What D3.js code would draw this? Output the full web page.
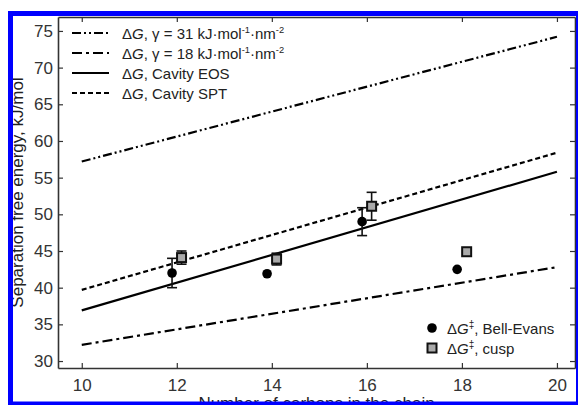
<!DOCTYPE html>
<html><head><meta charset="utf-8">
<script src="https://cdn.jsdelivr.net/npm/d3@7"></script>
<style>
html,body{margin:0;padding:0;background:#fff;}
svg{display:block;font-family:"Liberation Sans",Arial,Helvetica,sans-serif;}
</style></head>
<body>
<svg id="chart" width="578" height="405"></svg>
<script>
// ---- data ----
const lineX = [10, 20];
const gamma31 = [57.2, 74.2];
const gamma18 = [32.2, 42.8];
const cavityEOS = [36.9, 55.8];
const cavitySPT = [39.7, 58.4];

const bellX = [11.9, 13.9, 15.9, 17.9];
const bellY = [42.0, 41.9, 49.0, 42.5];
const bellErr = [2.0, 0, 1.9, 0];

const cuspX = [12.1, 14.1, 16.1, 18.1];
const cuspY = [44.1, 43.9, 51.1, 44.9];
const cuspErr = [0.9, 0.8, 1.9, 0];

const xTicks = [10, 12, 14, 16, 18, 20];
const yTicks = [30, 35, 40, 45, 50, 55, 60, 65, 70, 75];

const xTitle = "Number of carbons in the chain";
const yTitle = "Separation free energy, kJ/mol";

// ---- layout ----
const svg = d3.select("#chart");
const L = 58, R = 575, T = 17, B = 368;
const x = d3.scaleLinear().domain([9.5, 20.38]).range([L, R]);
const y = d3.scaleLinear().domain([29.05, 76.9]).range([B, T]);
const axisColor = "#333";

// axes
const gx = svg.append("g").attr("transform", `translate(0,${B})`)
  .call(d3.axisBottom(x).tickValues(xTicks).tickSize(-5).tickPadding(11).tickSizeOuter(0).tickFormat(d3.format("d")));
const gy = svg.append("g").attr("transform", `translate(${L},0)`)
  .call(d3.axisLeft(y).tickValues(yTicks).tickSize(-5).tickPadding(5).tickSizeOuter(0).tickFormat(d3.format("d")));
const gt = svg.append("g").attr("transform", `translate(0,${T})`)
  .call(d3.axisTop(x).tickValues(xTicks).tickSize(-5).tickSizeOuter(0).tickFormat(""));
const gr = svg.append("g").attr("transform", `translate(${R},0)`)
  .call(d3.axisRight(y).tickValues(yTicks).tickSize(-5).tickSizeOuter(0).tickFormat(""));
[gx, gy, gt, gr].forEach(g => {
  g.selectAll("path.domain").attr("stroke", axisColor).attr("stroke-width", 1.6);
  g.selectAll(".tick line").attr("stroke", axisColor).attr("stroke-width", 1.2);
  g.selectAll(".tick text").attr("fill", "#333").attr("font-size", 17)
    .attr("font-family", '"Liberation Sans",Arial,sans-serif');
});
gt.selectAll(".tick text").remove();
gr.selectAll(".tick text").remove();

// lines
const lineGen = d3.line().x(d => x(d[0])).y(d => y(d[1]));
const series = [
  {vals: gamma31, dash: "9,3,2,3,2,3"},
  {vals: gamma18, dash: "10,4,3,4"},
  {vals: cavityEOS, dash: null},
  {vals: cavitySPT, dash: "5,3"}
];
series.forEach(s => {
  svg.append("path")
    .attr("d", lineGen(lineX.map((v, i) => [v, s.vals[i]])))
    .attr("fill", "none").attr("stroke", "#000").attr("stroke-width", 2.2)
    .attr("stroke-dasharray", s.dash);
});

// error bars
function errBars(xs, ys, es) {
  xs.forEach((xv, i) => {
    if (!es[i]) return;
    const cx = x(xv), y1 = y(ys[i] - es[i]), y2 = y(ys[i] + es[i]);
    const g = svg.append("g").attr("stroke", "#111").attr("stroke-width", 1.6);
    g.append("line").attr("x1", cx).attr("x2", cx).attr("y1", y1).attr("y2", y2);
    g.append("line").attr("x1", cx - 5).attr("x2", cx + 5).attr("y1", y1).attr("y2", y1);
    g.append("line").attr("x1", cx - 5).attr("x2", cx + 5).attr("y1", y2).attr("y2", y2);
  });
}
errBars(bellX, bellY, bellErr);
errBars(cuspX, cuspY, cuspErr);

svg.selectAll("circle.bell").data(bellX).join("circle")
  .attr("cx", d => x(d)).attr("cy", (d, i) => y(bellY[i])).attr("r", 4.8).attr("fill", "#000");
svg.selectAll("rect.cusp").data(cuspX).join("rect")
  .attr("x", d => x(d) - 4.5).attr("y", (d, i) => y(cuspY[i]) - 4.5)
  .attr("width", 9).attr("height", 9).attr("fill", "#aaa").attr("stroke", "#111").attr("stroke-width", 2);

// legend top-left
const legRows = [
  {dash: "9,3,2,3,2,3", parts: [["ΔG", "i"], [", γ = 31 kJ·mol", ""], ["-1", "sup"], ["·nm", ""], ["-2", "sup"]]},
  {dash: "10,4,3,4", parts: [["ΔG", "i"], [", γ = 18 kJ·mol", ""], ["-1", "sup"], ["·nm", ""], ["-2", "sup"]]},
  {dash: null, parts: [["ΔG", "i"], [", Cavity EOS", ""]]},
  {dash: "5,3", parts: [["ΔG", "i"], [", Cavity SPT", ""]]}
];
function richText(t, parts, fs) {
  let shift = 0;
  parts.forEach(p => {
    if (p[1] === "i") {
      t.append("tspan").text("Δ");
      t.append("tspan").attr("font-style", "italic").text("G");
    } else if (p[1] === "sup") {
      t.append("tspan").attr("font-size", fs * 0.62).attr("dy", -6 - shift).text(p[0]);
      shift = -6;
    } else {
      t.append("tspan").attr("dy", -shift).text(p[0]);
      shift = 0;
    }
  });
}
legRows.forEach((r, i) => {
  const yy = 33 + i * 20;
  svg.append("line").attr("x1", 72).attr("x2", 109).attr("y1", yy).attr("y2", yy)
    .attr("stroke", "#000").attr("stroke-width", 2.2).attr("stroke-dasharray", r.dash);
  const t = svg.append("text").attr("x", 122).attr("y", yy + 5.5).attr("font-size", 15).attr("fill", "#222");
  richText(t, r.parts, 15);
});

// legend bottom-right
const lg2 = [{lab: "Bell-Evans", sym: "circle"}, {lab: "cusp", sym: "square"}];
lg2.forEach((r, i) => {
  const yy = 328 + i * 20;
  if (r.sym === "circle") svg.append("circle").attr("cx", 432).attr("cy", yy).attr("r", 4.8).attr("fill", "#000");
  else svg.append("rect").attr("x", 427.5).attr("y", yy - 4.5).attr("width", 9).attr("height", 9)
    .attr("fill", "#aaa").attr("stroke", "#111").attr("stroke-width", 2);
  const t = svg.append("text").attr("x", 447).attr("y", yy + 5.5).attr("font-size", 15).attr("fill", "#222");
  t.append("tspan").text("Δ");
  t.append("tspan").attr("font-style", "italic").text("G");
  t.append("tspan").attr("font-size", 10).attr("dy", -6).text("‡");
  t.append("tspan").attr("dy", 6).text(", " + r.lab);
});

// titles
svg.append("text").attr("x", (L + R) / 2).attr("y", 409).attr("text-anchor", "middle")
  .attr("font-size", 17).attr("fill", "#222").text(xTitle);
svg.append("text").attr("transform", `translate(23,${(T + B) / 2}) rotate(-90)`).attr("text-anchor", "middle")
  .attr("font-size", 17).attr("fill", "#222").text(yTitle);

// blue frame
svg.append("rect").attr("x", 10.5).attr("y", 13.5).attr("width", 568).attr("height", 390.5)
  .attr("fill", "none").attr("stroke", "#0000ff").attr("stroke-width", 5);
</script>
</body></html>
